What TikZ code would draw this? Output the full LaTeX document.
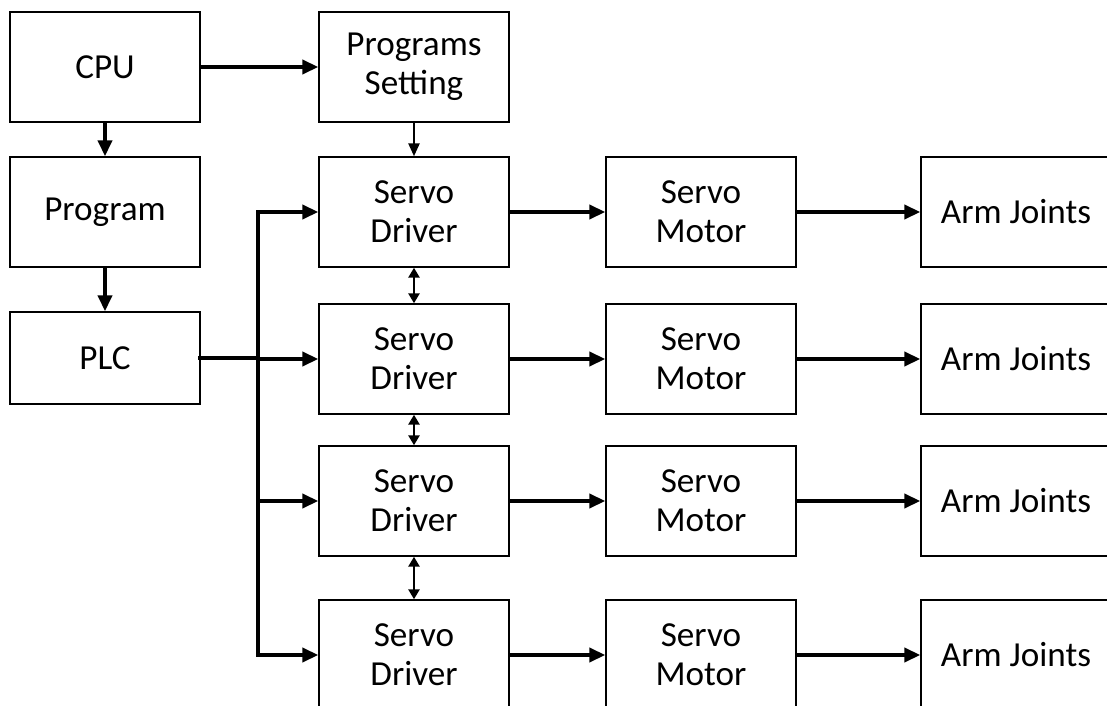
\documentclass[tikz,border=0pt]{standalone}
\usepackage{fontspec}
\setmainfont{Carlito}
\usepackage{tikz}
\usetikzlibrary{arrows.meta}

\tikzset{
  block/.style={draw, line width=0.8pt, minimum width=3.8cm, minimum height=2.2cm,
    align=center, inner sep=2pt, font=\fontsize{20}{22}\selectfont},
  bigarrow/.style={line width=2.8pt, -{Triangle[length=0.32cm,width=0.28cm]}},
  smallarrow/.style={line width=1.4pt, -{Triangle[length=0.26cm,width=0.22cm]}},
  twoway/.style={line width=1.4pt,
    {Triangle[length=0.2cm,width=0.22cm]}-{Triangle[length=0.2cm,width=0.22cm]}},
  busline/.style={line width=2.8pt, line cap=rect}
}

\begin{document}
\begin{tikzpicture}[x=0.02cm, y=-0.02cm]
    \clip (0,0) rectangle (1107,706);
    \node[block] (cpu) at (105,67) {CPU};
    \node[block] (ps) at (414,67) {Programs\\Setting};
    \node[block] (prog) at (105,212) {Program};
    \node[block, minimum height=1.84cm] (plc) at (105,358) {PLC};
    \foreach \i/\y in {1/212,2/359,3/501,4/655} {
      \node[block] (sd\i) at (414,\y) {Servo\\Driver};
      \node[block] (sm\i) at (701,\y) {Servo\\Motor};
      \node[block] (aj\i) at (1016,\y) {Arm Joints};
    }
    \coordinate (bus) at (258,358);

    \draw[bigarrow] (cpu) -- (ps);
    \draw[bigarrow] (cpu) -- (prog);
    \draw[bigarrow] (prog) -- (plc);
    \draw[smallarrow] (ps) -- (sd1);

    \draw[busline] (plc) -- (plc -| bus);
    \draw[busline] (sd1.west -| bus) -- (sd4.west -| bus);
    \foreach \i in {1,...,4} {
      \draw[bigarrow] (sd\i.west -| bus) -- (sd\i.west);
      \draw[bigarrow] (sd\i) -- (sm\i);
      \draw[bigarrow] (sm\i) -- (aj\i);
    }
    \foreach \i/\j in {1/2,2/3,3/4}
      \draw[twoway] (sd\i) -- (sd\j);
\end{tikzpicture}
\end{document}
